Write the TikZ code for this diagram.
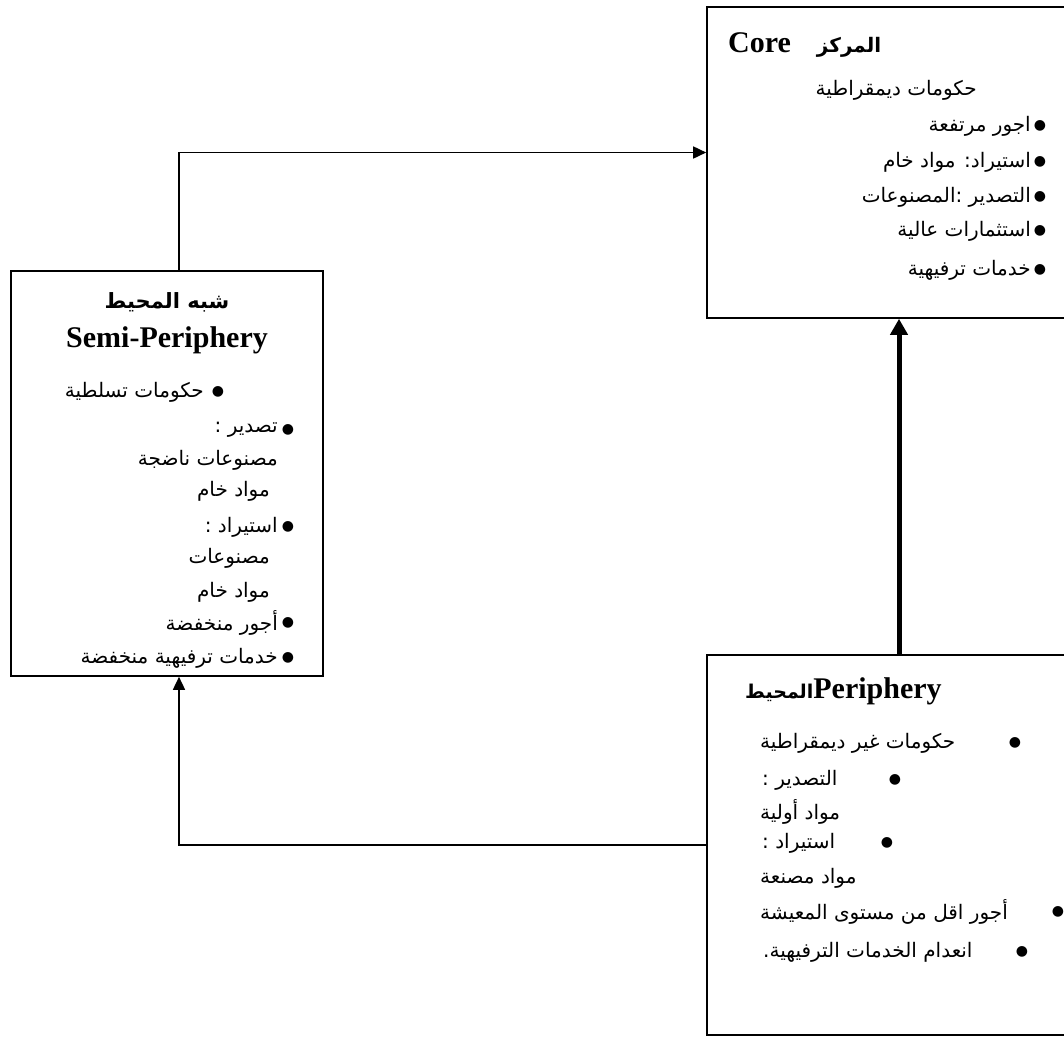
\documentclass[tikz,border=0pt]{standalone}
\usepackage{fontspec}
\setmainfont{Liberation Serif}
\newfontfamily\arabicfont[Script=Arabic]{DejaVu Sans}
\TeXXeTstate=1
\usetikzlibrary{arrows.meta}

\newcommand{\artxt}[1]{{\arabicfont\beginR #1\endR}}

\tikzset{
    box/.style    = {draw, line width=1.6pt, inner sep=0pt},
    item/.style   = {inner sep=0pt, font=\arabicfont\fontsize{20}{22}\selectfont},
    dot/.style    = {inner sep=0pt, font=\arabicfont\fontsize{14}{14}\selectfont},
    head/.style   = {inner sep=0pt, font=\bfseries\fontsize{30}{32}\selectfont},
    arhead/.style = {inner sep=0pt, font=\arabicfont\bfseries\fontsize{21}{24}\selectfont},
    arr/.style    = {line width=1.6pt, -{Triangle[length=13pt,width=12pt]}},
    bigarr/.style = {line width=5pt, -{Triangle[length=16pt,width=17pt]}},
}

\begin{document}
\begin{tikzpicture}[x=1pt, y=-1pt]
    \useasboundingbox (0,0) rectangle (1064,1039);

    % the three boxes
    \node[box, minimum width=384pt, minimum height=311pt] (core) at (899,162.5) {};
    \node[box, minimum width=312pt, minimum height=405pt] (semi) at (167,473.5) {};
    \node[box, minimum width=384pt, minimum height=380pt] (peri) at (899,845) {};

    % core
    \node[head, anchor=base west] (coretitle) at (728,52) {Core\hspace{26pt}\artxt{\bfseries\fontsize{20}{22}\selectfont المركز}};
    \node[item, anchor=east] (c0) at (977, 90) {\artxt{حكومات ديمقراطية}};
    \node[item, anchor=east] (c1) at (1031,126) {\artxt{اجور مرتفعة}};
    \node[item, anchor=east] (c2) at (1031,162) {\artxt{استيراد: مواد خام}};
    \node[item, anchor=east] (c3) at (1031,197) {\artxt{التصدير :المصنوعات}};
    \node[item, anchor=east] (c4) at (1031,231) {\artxt{استثمارات عالية}};
    \node[item, anchor=east] (c5) at (1031,270) {\artxt{خدمات ترفيهية}};
    \node[dot] (c1b) at (1040,126) {●};
    \node[dot] (c2b) at (1040,162) {●};
    \node[dot] (c3b) at (1040,197) {●};
    \node[dot] (c4b) at (1040,231) {●};
    \node[dot] (c5b) at (1040,270) {●};

    % semi-periphery
    \node[arhead] (semititle) at (167,302) {\artxt{شبه المحيط}};
    \node[head]   (seminame)  at (167,340) {Semi-Periphery};
    \node[item, anchor=east] (s1) at (204,392) {\artxt{حكومات تسلطية}};
    \node[item, anchor=east] (s2) at (278,430) {\artxt{تصدير :}};
    \node[item, anchor=east] (s3) at (278,460) {\artxt{مصنوعات ناضجة}};
    \node[item, anchor=east] (s4) at (270,491) {\artxt{مواد خام}};
    \node[item, anchor=east] (s5) at (278,527) {\artxt{استيراد :}};
    \node[item, anchor=east] (s6) at (270,558) {\artxt{مصنوعات}};
    \node[item, anchor=east] (s7) at (270,592) {\artxt{مواد خام}};
    \node[item, anchor=east] (s8) at (278,623) {\artxt{أجور منخفضة}};
    \node[item, anchor=east] (s9) at (278,658) {\artxt{خدمات ترفيهية منخفضة}};
    \node[dot] (s1b) at (218,392) {●};
    \node[dot] (s2b) at (288,430) {●};
    \node[dot] (s5b) at (288,527) {●};
    \node[dot] (s8b) at (288,623) {●};
    \node[dot] (s9b) at (288,658) {●};

    % periphery
    \node[head, anchor=base west] (perititle) at (745,698) {\artxt{\bfseries\fontsize{19}{21}\selectfont المحيط}Periphery};
    \node[item, anchor=west] (p1) at (760,743) {\artxt{حكومات غير ديمقراطية}};
    \node[item, anchor=west] (p2) at (762,780) {\artxt{التصدير :}};
    \node[item, anchor=west] (p3) at (760,812) {\artxt{مواد أولية}};
    \node[item, anchor=west] (p4) at (762,843) {\artxt{استيراد :}};
    \node[item, anchor=west] (p5) at (760,878) {\artxt{مواد مصنعة}};
    \node[item, anchor=west] (p6) at (760,912) {\artxt{أجور اقل من مستوى المعيشة}};
    \node[item, anchor=west] (p7) at (763,952) {\artxt{انعدام الخدمات الترفيهية.}};
    \node[dot] (p1b) at (1015,743) {●};
    \node[dot] (p2b) at (895,780) {●};
    \node[dot] (p4b) at (887,843) {●};
    \node[dot] (p6b) at (1058,912) {●};
    \node[dot] (p7b) at (1022,952) {●};

    % connectors
    \draw[arr]    ([xshift=12pt]semi.north) |- ([yshift=10pt]core.west);
    \draw[bigarr] (peri.north) -- (core.south);
    \draw[arr]    (peri.west) -| ([xshift=12pt]semi.south);
\end{tikzpicture}
\end{document}
